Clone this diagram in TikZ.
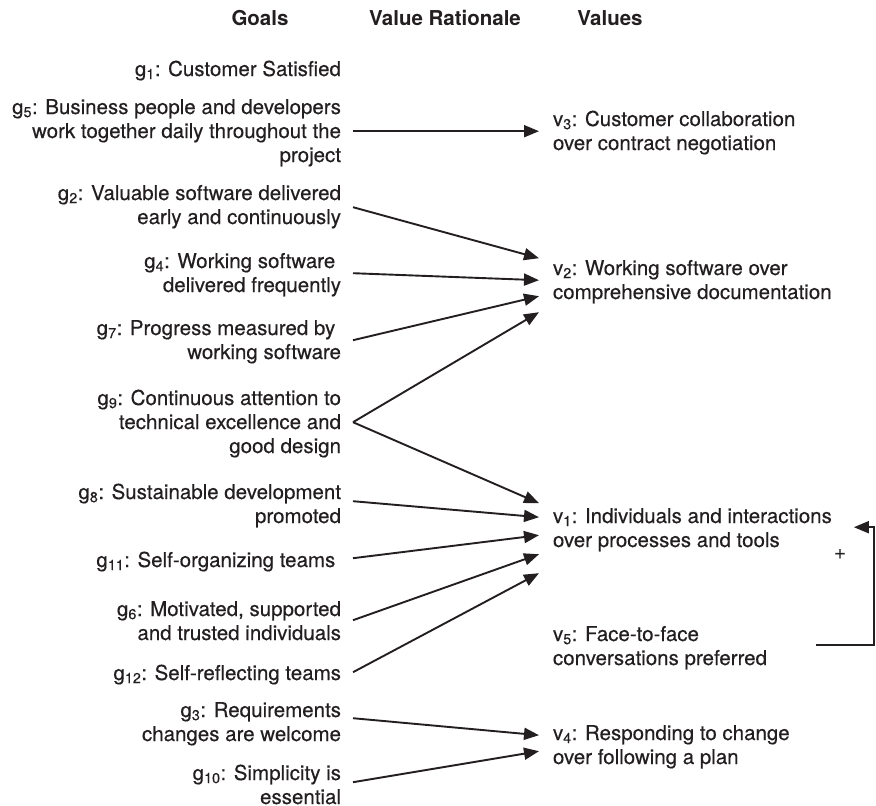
\documentclass[tikz,border=0pt]{standalone}
\usepackage{fontspec}
\setmainfont{TeX Gyre Heros}
\newfontfamily\bodyfont{TeX Gyre Heros}[FakeBold=0.35]
\usetikzlibrary{arrows.meta}
\definecolor{ink}{RGB}{35,31,32}
\begin{document}
\begin{tikzpicture}[x=1pt,y=-1pt,
  every node/.style={font=\bodyfont\fontsize{20.5}{24}\selectfont, text=ink, inner sep=0pt},
  goal/.style={anchor=north east, align=right, outer xsep=12pt},
  val/.style={anchor=north west, align=left, outer xsep=14pt},
  head/.style={font=\rmfamily\fontsize{20.5}{24}\selectfont\bfseries},
  conn/.style={draw=ink, line width=1.9pt, -{Triangle[length=15pt,width=12pt]}}
]
\useasboundingbox (0,0) rectangle (876,806);

% headers
\node[head] (hGoals) at (260,18) {Goals};
\node[head] (hRat) at (445,18) {Value Rationale};
\node[head] (hVal) at (610,18) {Values};

% goals
\node[goal] (g1) at (353,59) {\strut g\textsubscript{1}: Customer Satisfied};
\node[goal] (g5) at (353,97) {\strut g\textsubscript{5}: Business people and developers\\\strut work together daily throughout the\\\strut project};
\node[goal] (g2) at (353,183) {\strut g\textsubscript{2}: Valuable software delivered\\\strut early and continuously};
\node[goal] (g4) at (353,251) {\strut g\textsubscript{4}: Working software\rule{5.7pt}{0pt}\\\strut delivered frequently};
\node[goal] (g7) at (353,318) {\strut g\textsubscript{7}: Progress measured by\rule{5.7pt}{0pt}\\\strut working software};
\node[goal] (g9) at (353,388) {\strut g\textsubscript{9}: Continuous attention to\\\strut technical excellence and\\\strut good design};
\node[goal] (g8) at (353,482) {\strut g\textsubscript{8}: Sustainable development\\\strut promoted};
\node[goal] (g11) at (353,550) {\strut g\textsubscript{11}: Self-organizing teams\rule{5.7pt}{0pt}};
\node[goal] (g6) at (353,599) {\strut g\textsubscript{6}: Motivated, supported\\\strut and trusted individuals};
\node[goal] (g12) at (353,663) {\strut g\textsubscript{12}: Self-reflecting teams};
\node[goal] (g3) at (353,700) {\strut g\textsubscript{3}: Requirements\\\strut changes are welcome};
\node[goal] (g10) at (353,763) {\strut g\textsubscript{10}: Simplicity is\\\strut essential};

% values
\node[val] (v3) at (539,109) {\strut v\textsubscript{3}: Customer collaboration\\\strut over contract negotiation};
\node[val] (v2) at (539,258) {\strut v\textsubscript{2}: Working software over\\\strut comprehensive documentation};
\node[val] (v1) at (539,506) {\strut v\textsubscript{1}: Individuals and interactions\\\strut over processes and tools};
\node[val] (v5) at (539,624) {\strut v\textsubscript{5}: Face-to-face\\\strut conversations preferred};
\node[val] (v4) at (539,723) {\strut v\textsubscript{4}: Responding to change\\\strut over following a plan};

% connectors
\draw[conn] ([yshift=2pt]g5.east) -- ([yshift=2pt]v3.west);
\draw[conn] (g2.east) -- ([yshift=24pt]v2.west);
\draw[conn] ([yshift=2pt]g4.east) -- ([yshift=2pt]v2.west);
\draw[conn] ([yshift=2pt]g7.east) -- ([yshift=-14pt]v2.west);
\draw[conn] ([yshift=2pt]g9.east) -- ([yshift=-30pt]v2.west);
\draw[conn] ([yshift=2pt]g9.east) -- ([yshift=27pt]v1.west);
\draw[conn] ([yshift=5pt]g8.east) -- ([yshift=13pt]v1.west);
\draw[conn] ([yshift=4pt]g11.east) -- ([yshift=-5pt]v1.west);
\draw[conn] ([yshift=3pt]g6.east) -- ([yshift=-24pt]v1.west);
\draw[conn] ([yshift=3pt]g12.east) -- ([yshift=-43pt]v1.west);
\draw[conn] ([yshift=6pt]g3.east) -- ([yshift=12pt]v4.west);
\draw[conn] ([yshift=5pt]g10.east) -- ([yshift=-4pt]v4.west);

% feedback
\draw[conn] ([xshift=35pt,yshift=3pt]v5.east) -- ++(58,0) |- ([xshift=8pt,yshift=3pt]v1.east);
\node (plus) at (840,554) {+};
\end{tikzpicture}
\end{document}
